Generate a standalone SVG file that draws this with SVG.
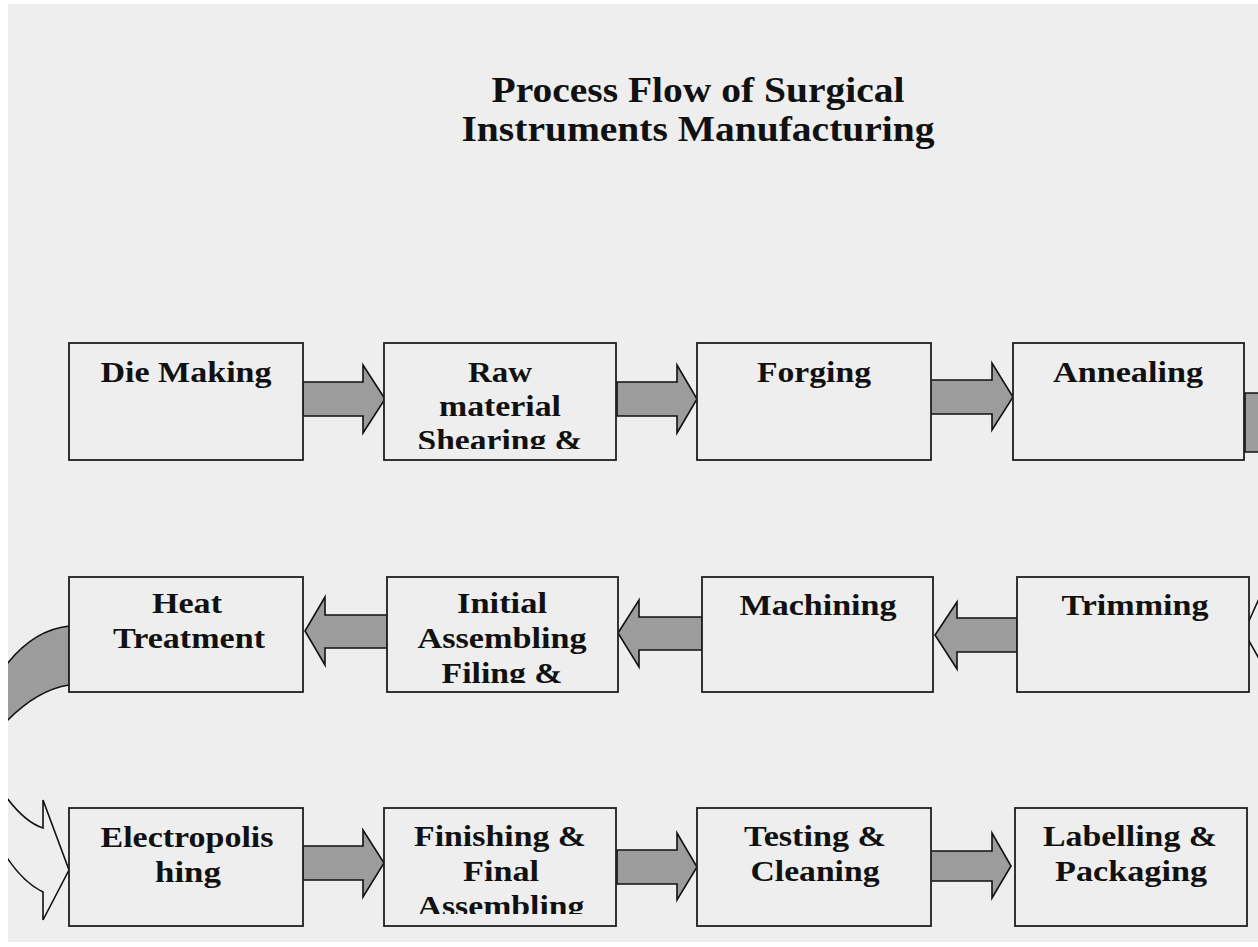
<svg xmlns="http://www.w3.org/2000/svg" width="1258" height="947" viewBox="0 0 1258 947">
<style>
.bg{fill:#eeeeee}
.box{fill:#eeeeee;stroke:#1e1e1e;stroke-width:1.8}
.t{font-family:"Liberation Serif","Times New Roman",serif;font-weight:bold;font-size:29px;fill:#111;text-anchor:middle}
.title{font-family:"Liberation Serif","Times New Roman",serif;font-weight:bold;font-size:36px;fill:#111;text-anchor:middle}
.arr{fill:#9c9c9c;stroke:#111;stroke-width:1.6;stroke-linejoin:miter}
.hollow{fill:#eeeeee;stroke:#111;stroke-width:1.6}
</style>
<defs>
<clipPath id="cpage"><rect x="8" y="4" width="1250" height="938"/></clipPath>
<clipPath id="c1"><rect x="69" y="343" width="234" height="106"/></clipPath>
<clipPath id="c2"><rect x="384" y="343" width="232" height="106"/></clipPath>
<clipPath id="c3"><rect x="697" y="343" width="234" height="106"/></clipPath>
<clipPath id="c4"><rect x="1013" y="343" width="231" height="106"/></clipPath>
<clipPath id="c5"><rect x="69" y="577" width="234" height="106"/></clipPath>
<clipPath id="c6"><rect x="387" y="577" width="231" height="106"/></clipPath>
<clipPath id="c7"><rect x="702" y="577" width="231" height="106"/></clipPath>
<clipPath id="c8"><rect x="1017" y="577" width="232" height="106"/></clipPath>
<clipPath id="c9"><rect x="69" y="808" width="234" height="106"/></clipPath>
<clipPath id="c10"><rect x="384" y="808" width="232" height="106"/></clipPath>
<clipPath id="c11"><rect x="697" y="808" width="234" height="106"/></clipPath>
<clipPath id="c12"><rect x="1015" y="808" width="232" height="106"/></clipPath>
</defs>
<rect x="0" y="0" width="1258" height="947" fill="#ffffff"/>
<rect class="bg" x="8" y="4" width="1250" height="938"/>

<g id="title">
<text class="title" x="698" y="102" textLength="413" lengthAdjust="spacingAndGlyphs">Process Flow of Surgical</text>
<text class="title" x="698" y="141" textLength="473" lengthAdjust="spacingAndGlyphs">Instruments Manufacturing</text>
</g>

<g id="connectors" clip-path="url(#cpage)">
<!-- row 1 -->
<polygon class="arr" points="303,382 363,382 363,365 385,399 363,433 363,416 303,416"/>
<polygon class="arr" points="617,382 677,382 677,365 697,399 677,433 677,416 617,416"/>
<polygon class="arr" points="928,380 992,380 992,363 1013,397 992,430 992,414 928,414"/>
<polygon class="arr" points="1262,393 1245,393 1245,452 1262,452"/>
<!-- row 2 -->
<polygon class="hollow" points="1262,592 1244,632 1262,664"/>
<polygon class="arr" points="1017,618 957,618 957,602 935,635 957,669 957,652 1017,652"/>
<polygon class="arr" points="702,617 639,617 639,600 618,633 639,667 639,650 702,650"/>
<polygon class="arr" points="387,615 325,615 325,597 305,631 325,665 325,648 387,648"/>
<!-- U-turn left -->
<path class="arr" d="M69,626 Q32,630 4,668 L4,724 Q36,690 69,685 Z"/>
<path class="hollow" d="M4,794 Q24,822 43,828 L43,800 L69,870 L43,920 L43,892 Q22,882 4,853"/>
<!-- row 3 -->
<polygon class="arr" points="303,846 363,846 363,830 384,863 363,897 363,880 303,880"/>
<polygon class="arr" points="617,850 677,850 677,833 697,867 677,900 677,884 617,884"/>
<polygon class="arr" points="929,851 992,851 992,833 1011,866 992,898 992,881 929,881"/>
</g>

<g id="n1"><rect class="box" x="69" y="343" width="234" height="117"/>
<g clip-path="url(#c1)"><text class="t" x="186" y="382" textLength="171" lengthAdjust="spacingAndGlyphs">Die Making</text></g></g>
<g id="n2"><rect class="box" x="384" y="343" width="232" height="117"/>
<g clip-path="url(#c2)"><text class="t" x="500" y="382" textLength="64" lengthAdjust="spacingAndGlyphs">Raw</text>
<text class="t" x="500" y="416" textLength="122" lengthAdjust="spacingAndGlyphs">material</text>
<text class="t" x="500" y="450" textLength="165" lengthAdjust="spacingAndGlyphs">Shearing &amp;</text></g></g>
<g id="n3"><rect class="box" x="697" y="343" width="234" height="117"/>
<g clip-path="url(#c3)"><text class="t" x="814" y="382" textLength="114" lengthAdjust="spacingAndGlyphs">Forging</text></g></g>
<g id="n4"><rect class="box" x="1013" y="343" width="231" height="117"/>
<g clip-path="url(#c4)"><text class="t" x="1128" y="382" textLength="150" lengthAdjust="spacingAndGlyphs">Annealing</text></g></g>

<g id="n5"><rect class="box" x="69" y="577" width="234" height="115"/>
<g clip-path="url(#c5)"><text class="t" x="187" y="613" textLength="70" lengthAdjust="spacingAndGlyphs">Heat</text>
<text class="t" x="189" y="648" textLength="152" lengthAdjust="spacingAndGlyphs">Treatment</text></g></g>
<g id="n6"><rect class="box" x="387" y="577" width="231" height="115"/>
<g clip-path="url(#c6)"><text class="t" x="502" y="613" textLength="90" lengthAdjust="spacingAndGlyphs">Initial</text>
<text class="t" x="502" y="648" textLength="169" lengthAdjust="spacingAndGlyphs">Assembling</text>
<text class="t" x="502" y="683" textLength="121" lengthAdjust="spacingAndGlyphs">Filing &amp;</text></g></g>
<g id="n7"><rect class="box" x="702" y="577" width="231" height="115"/>
<g clip-path="url(#c7)"><text class="t" x="818" y="615" textLength="157" lengthAdjust="spacingAndGlyphs">Machining</text></g></g>
<g id="n8"><rect class="box" x="1017" y="577" width="232" height="115"/>
<g clip-path="url(#c8)"><text class="t" x="1135" y="615" textLength="147" lengthAdjust="spacingAndGlyphs">Trimming</text></g></g>

<g id="n9"><rect class="box" x="69" y="808" width="234" height="118"/>
<g clip-path="url(#c9)"><text class="t" x="187" y="847" textLength="173" lengthAdjust="spacingAndGlyphs">Electropolis</text>
<text class="t" x="188" y="882" textLength="66" lengthAdjust="spacingAndGlyphs">hing</text></g></g>
<g id="n10"><rect class="box" x="384" y="808" width="232" height="118"/>
<g clip-path="url(#c10)"><text class="t" x="500" y="846" textLength="172" lengthAdjust="spacingAndGlyphs">Finishing &amp;</text>
<text class="t" x="501" y="881" textLength="76" lengthAdjust="spacingAndGlyphs">Final</text>
<text class="t" x="501" y="916" textLength="167" lengthAdjust="spacingAndGlyphs">Assembling</text></g></g>
<g id="n11"><rect class="box" x="697" y="808" width="234" height="118"/>
<g clip-path="url(#c11)"><text class="t" x="815" y="846" textLength="142" lengthAdjust="spacingAndGlyphs">Testing &amp;</text>
<text class="t" x="815" y="881" textLength="129" lengthAdjust="spacingAndGlyphs">Cleaning</text></g></g>
<g id="n12"><rect class="box" x="1015" y="808" width="232" height="118"/>
<g clip-path="url(#c12)"><text class="t" x="1130" y="846" textLength="174" lengthAdjust="spacingAndGlyphs">Labelling &amp;</text>
<text class="t" x="1131" y="881" textLength="152" lengthAdjust="spacingAndGlyphs">Packaging</text></g></g>
</svg>
